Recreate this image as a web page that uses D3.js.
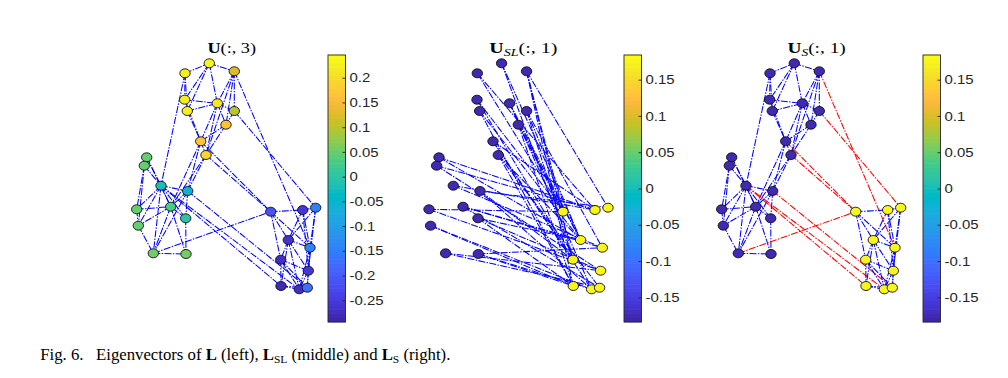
<!DOCTYPE html>
<html><head><meta charset="utf-8">
<script src="https://cdn.jsdelivr.net/npm/d3@7"></script>
<style>body{margin:0;background:#fff}svg{display:block}</style>
</head><body>
<svg id="c" width="1008" height="378"></svg>
<script>
// node layout (shared by all three panels), layout units
const nodeX = [55,79.3,104.3,54.7,57.3,87.3,104.3,96,70.7,76,
  16.7,14.3,31,57.7,6.7,40.7,55.7,8.3,23.3,56,
  140.7,172.7,185.7,158.3,180,150.7,178.3,151,169.3,177.3];
const nodeY = [18.3,8.3,16.3,44.7,56,48.3,56,69.7,86.3,100,
  102.3,110.7,130.7,136,154.3,151.7,163.3,170.7,198.3,199,
  156.7,155,152.7,185,192.7,204.7,215.7,231,234.3,232.7];
// eigenvector values
const uL = [0.225,0.235,0.125,0.225,0.225,0.22,0.10,0.165,0.165,0.195,
  0.05,0.045,-0.02,-0.05,0.045,0.035,0.0,0.045,0.06,0.06,
  -0.21,-0.26,-0.15,-0.265,-0.15,-0.27,-0.255,-0.28,-0.275,-0.17];
const uSL = [-0.175,-0.175,-0.175,-0.175,-0.175,-0.175,-0.175,-0.175,-0.175,-0.175,
  -0.175,-0.175,-0.175,-0.175,-0.175,-0.175,-0.175,-0.175,-0.175,-0.175,
  0.178,0.178,0.178,0.178,0.178,0.178,0.178,0.178,0.178,0.178];
const uS = [-0.175,-0.175,-0.175,-0.175,-0.175,-0.175,-0.175,-0.175,-0.175,-0.175,
  -0.175,-0.175,-0.175,-0.175,-0.175,-0.175,-0.175,-0.175,-0.175,-0.175,
  0.178,0.178,0.178,0.178,0.178,0.178,0.178,0.178,0.178,0.178];
// edges (1-based node ids)
const edgesG = [[1,2],[2,3],[1,4],[1,5],[2,4],[2,5],[2,6],[3,6],[3,7],[3,8],[4,6],[5,6],[6,7],[6,8],[7,8],
  [4,9],[5,9],[6,9],[8,9],[8,10],[9,10],[3,10],[6,10],
  [1,13],[9,14],[9,16],[10,16],[10,14],
  [11,12],[11,13],[12,13],[12,15],[12,18],[11,16],[13,15],[13,16],[13,17],[13,18],[13,19],[13,14],
  [14,16],[14,17],[15,16],[15,18],[16,18],[16,19],[16,17],[17,20],[19,20],[18,19],[16,20],[14,19],
  [3,25],[7,23],[9,21],[10,21],[19,21],[13,28],[13,29],[14,30],
  [21,22],[21,24],[21,26],[21,25],[22,23],[22,24],[22,25],[22,27],[23,25],[23,27],[23,24],[24,25],
  [24,26],[24,27],[24,28],[24,29],[25,27],[25,30],[26,28],[26,29],[26,27],[26,30],[27,29],[27,30],
  [28,29],[29,30],[28,30],[25,29]];
const edgesSL = [[1,21],[1,22],[2,24],[2,26],[3,23],[3,21],[3,26],[3,28],[4,21],[4,26],[5,24],[5,28],
  [6,24],[6,21],[6,29],[7,24],[7,25],[7,26],[8,21],[8,28],[8,24],[9,22],[9,29],[9,26],[10,28],[10,30],[10,24],
  [11,22],[11,24],[12,22],[12,27],[13,22],[13,25],[14,23],[14,26],[14,29],[15,21],[15,27],[16,24],[16,25],
  [16,30],[17,24],[17,28],[17,27],[18,28],[18,29],[19,27],[19,30],[20,28],[20,29],[20,25]];
const tickValsL = [-0.25,-0.2,-0.15,-0.1,-0.05,0,0.05,0.1,0.15,0.2];
const tickLabelsL = ["-0.25","-0.2","-0.15","-0.1","-0.05","0","0.05","0.1","0.15","0.2"];
const tickValsS = [-0.15,-0.1,-0.05,0,0.05,0.1,0.15];
const tickLabelsS = ["-0.15","-0.1","-0.05","0","0.05","0.1","0.15"];
const domainL = [-0.294,0.246];
const domainS = [-0.184,0.184];

const parula = [[0.2422,0.1504,0.6603],[0.2504,0.1650,0.7076],[0.2578,0.1818,0.7511],[0.2647,0.1978,0.7952],
[0.2706,0.2147,0.8364],[0.2751,0.2342,0.8710],[0.2783,0.2559,0.8991],[0.2803,0.2782,0.9221],[0.2813,0.3006,0.9414],
[0.2810,0.3228,0.9579],[0.2795,0.3447,0.9717],[0.2760,0.3667,0.9829],[0.2699,0.3892,0.9906],[0.2602,0.4123,0.9952],
[0.2440,0.4358,0.9988],[0.2206,0.4603,0.9973],[0.1963,0.4847,0.9892],[0.1834,0.5074,0.9798],[0.1786,0.5289,0.9682],
[0.1764,0.5499,0.9520],[0.1687,0.5703,0.9359],[0.1540,0.5902,0.9218],[0.1460,0.6091,0.9079],[0.1380,0.6276,0.8973],
[0.1248,0.6459,0.8883],[0.1113,0.6635,0.8763],[0.0952,0.6798,0.8598],[0.0689,0.6948,0.8394],[0.0297,0.7082,0.8163],
[0.0036,0.7203,0.7917],[0.0067,0.7312,0.7660],[0.0433,0.7411,0.7394],[0.0964,0.7500,0.7120],[0.1408,0.7584,0.6842],
[0.1717,0.7670,0.6554],[0.1938,0.7758,0.6251],[0.2161,0.7843,0.5923],[0.2470,0.7918,0.5567],[0.2906,0.7973,0.5188],
[0.3406,0.8008,0.4789],[0.3909,0.8029,0.4354],[0.4456,0.8024,0.3909],[0.5044,0.7993,0.3480],[0.5616,0.7942,0.3045],
[0.6174,0.7876,0.2612],[0.6720,0.7793,0.2227],[0.7242,0.7698,0.1910],[0.7738,0.7598,0.1646],[0.8203,0.7498,0.1535],
[0.8634,0.7406,0.1596],[0.9035,0.7330,0.1774],[0.9393,0.7288,0.2100],[0.9728,0.7298,0.2394],[0.9956,0.7434,0.2371],
[0.9970,0.7659,0.2199],[0.9952,0.7893,0.2028],[0.9892,0.8136,0.1885],[0.9786,0.8386,0.1766],[0.9676,0.8639,0.1643],
[0.9610,0.8890,0.1537],[0.9597,0.9135,0.1423],[0.9628,0.9373,0.1265],[0.9691,0.9606,0.1064],[0.9769,0.9839,0.0805]];
const parulaHex = parula.map(c => d3.rgb(c[0]*255, c[1]*255, c[2]*255).formatHex());

const svg = d3.select("#c");

const panels = [
  {off:0, vals:uL, edges:edgesG, dom:domainL, barX:328, ticks:tickValsL, labels:tickLabelsL, sub:null, idx:"3", tx:231.7, tw:48.7, signed:false},
  {off:292.3, vals:uSL, edges:edgesSL, dom:domainS, barX:624, ticks:tickValsS, labels:tickLabelsS, sub:"SL", idx:"1", tx:523.3, tw:68.3, signed:false},
  {off:585, vals:uS, edges:edgesG, dom:domainS, barX:923, ticks:tickValsS, labels:tickLabelsS, sub:"S", idx:"1", tx:816.6, tw:58.4, signed:true}
];

function fitWidth(sel, target, cx, y) {
  const w = sel.node().getBBox().width;
  sel.attr("transform", `translate(${cx},${y}) scale(${target / w},1)`);
}

panels.forEach(p => {
  const x = d3.scaleLinear().domain([0,190]).range([130 + p.off, 320 + p.off]);
  const y = d3.scaleLinear().domain([0,240]).range([55, 295]);
  const color = d3.scaleQuantize().domain(p.dom).range(parulaHex);
  const g = svg.append("g");
  g.selectAll("line.e").data(p.edges).join("line")
    .attr("x1", d => x(nodeX[d[0]-1])).attr("y1", d => y(nodeY[d[0]-1]))
    .attr("x2", d => x(nodeX[d[1]-1])).attr("y2", d => y(nodeY[d[1]-1]))
    .attr("stroke", d => (p.signed && Math.sign(p.vals[d[0]-1]) !== Math.sign(p.vals[d[1]-1])) ? "#ff0000" : "#0000ff")
    .attr("stroke-width", 1.05)
    .attr("stroke-dasharray", "7,1.4,1.4,1.4");
  g.selectAll("ellipse").data(nodeX.map((v,i) => i)).join("ellipse")
    .attr("cx", i => x(nodeX[i])).attr("cy", i => y(nodeY[i]))
    .attr("rx", 5.2).attr("ry", 4.5)
    .attr("fill", i => color(p.vals[i]))
    .attr("stroke", "#111").attr("stroke-width", 0.9);

  // colorbar
  const cy = d3.scaleLinear().domain(p.dom).range([322, 55]);
  const bw = 17.5;
  const step = (p.dom[1] - p.dom[0]) / parulaHex.length;
  g.selectAll("rect.cb").data(parulaHex).join("rect")
    .attr("x", p.barX).attr("width", bw)
    .attr("y", (c,i) => cy(p.dom[0] + (i+1)*step) - 0.3)
    .attr("height", (c,i) => cy(p.dom[0] + i*step) - cy(p.dom[0] + (i+1)*step) + 0.6)
    .attr("fill", c => c);
  g.append("rect").attr("x", p.barX).attr("y", 55).attr("width", bw).attr("height", 267)
    .attr("fill", "none").attr("stroke", "#262626").attr("stroke-width", 0.9);
  const ax = d3.axisRight(cy).tickValues(p.ticks).tickFormat((d,i) => p.labels[i]).tickSize(-3).tickPadding(0);
  const axg = g.append("g").attr("transform", `translate(${p.barX + bw},0)`).call(ax);
  axg.select(".domain").remove();
  axg.selectAll(".tick line").attr("stroke", "#262626").attr("stroke-width", 0.9);
  axg.selectAll(".tick text").attr("x", null)
    .attr("font-family", "Liberation Sans, Arial, sans-serif").attr("font-size", 13)
    .attr("fill", "#262626")
    .attr("transform", "translate(4,0) scale(1.15,1)");

  // title
  const t = svg.append("text").attr("font-family", "Liberation Serif, serif").attr("font-size", 15)
    .attr("text-anchor", "middle").attr("fill", "#000");
  t.append("tspan").attr("font-weight", "bold").text("U");
  if (p.sub) {
    t.append("tspan").attr("font-style", "italic").attr("font-size", 10.5).attr("dy", 3).text(p.sub);
    t.append("tspan").attr("dy", -3).text("(:, " + p.idx + ")");
  } else {
    t.append("tspan").text("(:, " + p.idx + ")");
  }
  fitWidth(t, p.tw, p.tx, 52.5);
});

// caption
const cap = svg.append("text").attr("font-family", "Liberation Serif, Times New Roman, serif").attr("font-size", 16).attr("fill", "#000");
const parts = [["Fig. 6.\u00a0\u00a0 Eigenvectors of ",""],["L","b"],[" (left), ",""],["L","b"],["SL","s"],[" (middle) and ",""],["L","b"],["S","s"],[" (right).",""]];
let shifted = false;
parts.forEach(([txt, k]) => {
  const ts = cap.append("tspan").text(txt);
  if (k === "b") ts.attr("font-weight", "bold");
  if (k === "s") { ts.attr("font-size", 11).attr("dy", 3); shifted = true; }
  else if (shifted) { ts.attr("dy", -3); shifted = false; }
});
{
  const w = cap.node().getBBox().width;
  cap.attr("transform", `translate(40.3,360) scale(${410.4 / w},1)`);
}
</script>
</body></html>
